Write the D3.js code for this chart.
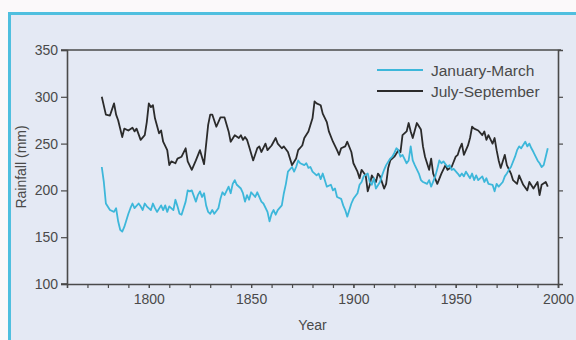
<!DOCTYPE html>
<html>
<head>
<meta charset="utf-8">
<script src="https://cdn.jsdelivr.net/npm/d3@7"></script>
<style>
  html, body { margin: 0; padding: 0; background: #fbf9fa; }
  svg { display: block; }
  text { font-family: "Liberation Sans", Arial, Helvetica, sans-serif; fill: #4a4a4a; }
</style>
</head>
<body>
<svg id="chart" width="576" height="340"></svg>
<script>
// Seasonal rainfall series (mm)
const janMarYears = [1777,1778,1779,1781,1783,1784,1785,1786,1787,1788,1790,1791,1792,1793,1795,1796,1797,1798,1799,1801,1802,1803,1804,1806,1807,1808,1809,1810,1812,1813,1814,1815,1816,1818,1819,1820,1821,1823,1824,1825,1826,1827,1828,1829,1830,1831,1832,1834,1835,1836,1837,1839,1840,1841,1842,1843,1845,1846,1847,1848,1849,1850,1852,1853,1854,1855,1856,1858,1859,1860,1861,1862,1863,1865,1866,1867,1868,1870,1871,1872,1873,1874,1876,1877,1878,1879,1880,1882,1883,1884,1885,1886,1887,1889,1890,1891,1892,1894,1895,1896,1897,1898,1899,1900,1902,1903,1904,1905,1907,1908,1909,1910,1911,1913,1914,1915,1916,1918,1919,1920,1921,1922,1923,1924,1926,1927,1928,1929,1930,1932,1933,1934,1935,1936,1937,1938,1940,1941,1942,1943,1944,1946,1947,1948,1949,1951,1952,1953,1954,1955,1957,1958,1959,1960,1961,1963,1964,1965,1966,1968,1969,1970,1971,1973,1974,1975,1976,1977,1979,1980,1981,1982,1984,1985,1986,1987,1988,1990,1991,1992,1993,1994,1995];
const janMarRain = [225,209,186,179,177,181,167,158,156,161,175,181,186,181,186,183,179,186,183,179,186,181,177,184,179,184,177,183,179,190,183,175,174,188,200,199,200,188,195,199,193,197,184,177,175,179,175,181,191,198,195,204,197,207,211,206,202,197,188,195,190,198,193,198,193,188,186,177,167,175,179,174,179,184,197,207,220,225,220,225,232,229,227,229,224,225,220,216,218,212,218,211,204,206,200,202,193,191,184,179,172,179,186,191,197,206,209,215,218,209,206,213,202,209,216,222,227,234,236,240,245,243,236,238,229,232,247,232,227,218,211,209,208,207,211,204,215,223,232,229,231,225,227,222,223,218,215,218,215,220,213,218,211,216,211,215,209,213,207,206,199,207,204,209,215,218,222,225,236,243,247,245,252,247,250,245,241,232,229,225,227,236,245];

const julSepYears = [1777,1779,1781,1783,1784,1785,1787,1788,1790,1792,1793,1794,1796,1798,1799,1800,1801,1802,1803,1805,1806,1807,1809,1810,1811,1813,1814,1816,1818,1819,1821,1823,1825,1827,1829,1830,1831,1833,1835,1837,1839,1840,1842,1844,1845,1846,1847,1848,1849,1851,1853,1854,1855,1857,1858,1860,1862,1863,1865,1866,1868,1870,1872,1873,1875,1876,1878,1880,1881,1882,1884,1885,1887,1888,1890,1892,1893,1894,1896,1897,1899,1900,1902,1903,1904,1906,1907,1908,1909,1911,1912,1913,1915,1916,1917,1918,1920,1922,1923,1924,1926,1927,1928,1929,1931,1933,1934,1935,1937,1938,1939,1941,1943,1945,1946,1948,1950,1951,1952,1953,1954,1956,1957,1958,1959,1961,1963,1964,1965,1966,1968,1969,1970,1971,1972,1974,1975,1977,1978,1980,1981,1983,1985,1986,1988,1990,1991,1992,1994,1995];
const julSepRain = [300,281,280,293,281,275,257,266,264,267,263,266,254,259,273,293,289,291,277,261,264,252,243,227,231,229,234,236,245,231,222,232,243,228,270,281,281,268,278,278,263,252,259,256,259,254,257,254,247,232,245,247,241,250,243,248,256,250,245,247,241,227,234,243,248,256,263,277,295,293,291,282,273,263,252,243,238,245,247,252,241,229,220,213,222,216,199,206,216,209,218,215,202,207,224,232,236,243,241,259,263,272,263,256,272,265,247,236,222,234,218,207,218,227,222,225,236,238,245,250,238,248,256,268,266,264,259,263,254,259,250,256,243,232,224,238,227,218,211,207,216,206,200,209,202,209,195,206,209,204];

const yTicks = [100, 150, 200, 250, 300, 350];
const xLabelYears = [1800, 1850, 1900, 1950, 2000];
const xMinorYears = d3.range(1770, 2001, 10);

const seriesNames = ["January-March", "July-September"];
const seriesColors = ["#3db7da", "#2b2b2b"];

const svg = d3.select("#chart");

// Panel with cyan rule along the top and left edges
svg.append("rect").attr("x", 8).attr("y", 12).attr("width", 580).attr("height", 340)
  .attr("fill", "#e4e9f4");
svg.append("path").attr("d", "M9.5,340 V13.5 H576")
  .attr("fill", "none").attr("stroke", "#4fbfdf").attr("stroke-width", 3);

const plotLeft = 67, plotRight = 558, plotTop = 50, plotBottom = 284;
const x = d3.scaleLinear().domain([1760, 2000]).range([plotLeft, plotRight]);
const y = d3.scaleLinear().domain([100, 350]).range([plotBottom, plotTop]);

const axisColor = "#4a4a4a";
const labelSize = "14px";

// Top rule of the frame
svg.append("line").attr("x1", plotLeft - 6).attr("x2", plotRight + 3).attr("y1", plotTop).attr("y2", plotTop)
  .attr("stroke", axisColor).attr("stroke-width", 1.6);

const gLeft = svg.append("g").attr("transform", `translate(${plotLeft},0)`)
  .call(d3.axisLeft(y).tickValues(yTicks).tickSize(6).tickPadding(3).tickFormat(d3.format("d")));
const gRight = svg.append("g").attr("transform", `translate(${plotRight},0)`)
  .call(d3.axisRight(y).tickValues(yTicks.slice(1, 5)).tickSize(5).tickFormat(""));
const gBottom = svg.append("g").attr("transform", `translate(0,${plotBottom})`)
  .call(d3.axisBottom(x).tickValues(xMinorYears).tickSize(4).tickFormat(""));
const gBottomLabels = svg.append("g").attr("transform", `translate(0,${plotBottom})`)
  .call(d3.axisBottom(x).tickValues(xLabelYears).tickSize(4).tickPadding(6).tickFormat(d3.format("d")));
gBottomLabels.select(".domain").remove();

[gLeft, gRight, gBottom, gBottomLabels].forEach(g => {
  g.selectAll(".domain").attr("stroke", axisColor).attr("stroke-width", 1.6);
  g.selectAll(".tick line").attr("stroke", axisColor).attr("stroke-width", 1.2);
  g.selectAll(".tick text").style("font-size", labelSize).attr("fill", "#4a4a4a");
});
// bottom rule reaches slightly past the left axis
svg.append("line").attr("x1", plotLeft - 6).attr("x2", plotLeft).attr("y1", plotBottom).attr("y2", plotBottom)
  .attr("stroke", axisColor).attr("stroke-width", 1.6);

// Axis titles
svg.append("text").attr("x", x(1880)).attr("y", 330)
  .attr("text-anchor", "middle").style("font-size", labelSize).text("Year");
svg.append("text").attr("transform", `translate(26,${(plotTop + plotBottom) / 2}) rotate(-90)`)
  .attr("text-anchor", "middle").style("font-size", labelSize).text("Rainfall (mm)");

// Series lines
const line = d3.line().x(d => x(d[0])).y(d => y(d[1]));
const janMar = janMarYears.map((yr, i) => [yr, janMarRain[i]]);
const julSep = julSepYears.map((yr, i) => [yr, julSepRain[i]]);

svg.append("path").datum(julSep).attr("d", line)
  .attr("fill", "none").attr("stroke", seriesColors[1]).attr("stroke-width", 1.8).attr("stroke-linejoin", "round");
svg.append("path").datum(janMar).attr("d", line)
  .attr("fill", "none").attr("stroke", seriesColors[0]).attr("stroke-width", 1.8).attr("stroke-linejoin", "round");

// Legend
const legend = svg.append("g").attr("transform", "translate(377,70)");
seriesNames.forEach((name, i) => {
  const row = legend.append("g").attr("transform", `translate(0,${i * 21})`);
  row.append("line").attr("x1", 0).attr("x2", 46).attr("y1", 0).attr("y2", 0)
    .attr("stroke", seriesColors[i]).attr("stroke-width", 2);
  row.append("text").attr("x", 54).attr("y", 5.5).style("font-size", "15.5px").text(name);
});
</script>
</body>
</html>
